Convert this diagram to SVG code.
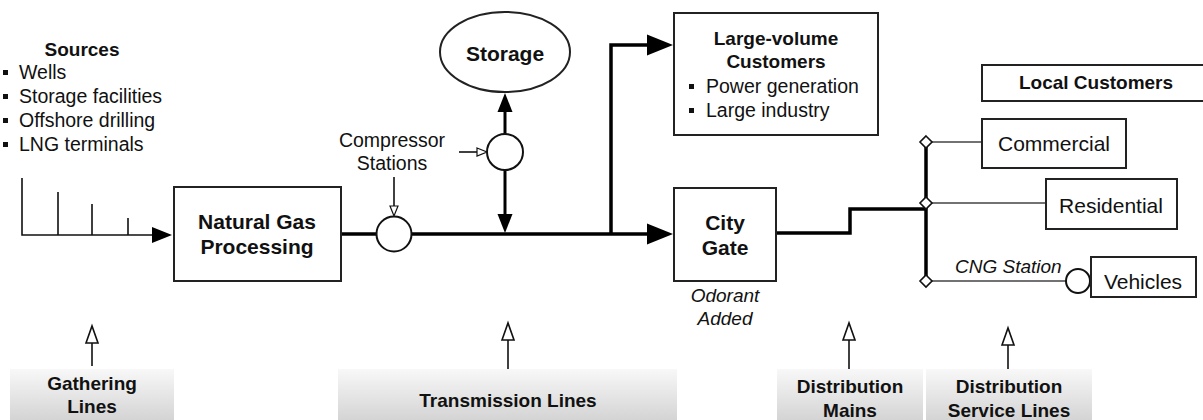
<svg xmlns="http://www.w3.org/2000/svg" width="1203" height="420" viewBox="0 0 1203 420">
<style>
  text { font-family: "Liberation Sans", Arial, Helvetica, sans-serif; fill: #111; }
  .b { font-weight: bold; }
  .i { font-style: italic; }
  .s19 { font-size: 19px; }
  .s195 { font-size: 19.5px; }
  .s21 { font-size: 21px; }
  .mid { text-anchor: middle; }
  .box { fill: #fff; stroke: #222; stroke-width: 2; }
  .lbl { fill: url(#gray); stroke: none; }
  .pipe { fill: none; stroke: #000; stroke-width: 3.5; }
  .thin { fill: none; stroke: #111; stroke-width: 1.6; }
  .svc { fill: none; stroke: #444; stroke-width: 1.4; }
  .circ { fill: #fff; stroke: #111; stroke-width: 2; }
  .dia { fill: #fff; stroke: #111; stroke-width: 1.6; }
  .bul { fill: #111; }
</style>
<defs>
  <linearGradient id="gray" x1="0" y1="0" x2="0" y2="1">
    <stop offset="0" stop-color="#f8f8f8"/>
    <stop offset="1" stop-color="#d4d4d4"/>
  </linearGradient>
  <marker id="big" markerUnits="userSpaceOnUse" markerWidth="27" markerHeight="22" refX="0" refY="11" orient="auto" overflow="visible">
    <path d="M0,0.5 L26,11 L0,21.5 z" fill="#000"/>
  </marker>
  <marker id="med" markerUnits="userSpaceOnUse" markerWidth="20" markerHeight="16" refX="0" refY="8" orient="auto" overflow="visible">
    <path d="M0,0.5 L19,8 L0,15.5 z" fill="#000"/>
  </marker>
  <marker id="small" markerUnits="userSpaceOnUse" markerWidth="21" markerHeight="17" refX="0" refY="8.5" orient="auto" overflow="visible">
    <path d="M0,0.5 L20,8.5 L0,16.5 z" fill="#000"/>
  </marker>
  <marker id="hol" markerUnits="userSpaceOnUse" markerWidth="12" markerHeight="10" refX="0" refY="5" orient="auto" overflow="visible">
    <path d="M0,1 L10,5 L0,9 z" fill="#fff" stroke="#111" stroke-width="1.2"/>
  </marker>
  <marker id="holbig" markerUnits="userSpaceOnUse" markerWidth="19" markerHeight="14" refX="0" refY="7" orient="auto" overflow="visible">
    <path d="M0,1 L17,7 L0,13 z" fill="#fff" stroke="#111" stroke-width="1.6"/>
  </marker>
</defs>

<!-- Sources -->
<g id="sources">
  <text class="b s19 mid" x="82" y="56">Sources</text>
  <rect class="bul" x="3" y="70" width="5" height="5"/>
  <text class="s195" x="19" y="79">Wells</text>
  <rect class="bul" x="3" y="94" width="5" height="5"/>
  <text class="s195" x="19" y="103">Storage facilities</text>
  <rect class="bul" x="3" y="118" width="5" height="5"/>
  <text class="s195" x="19" y="127">Offshore drilling</text>
  <rect class="bul" x="3" y="142" width="5" height="5"/>
  <text class="s195" x="19" y="151">LNG terminals</text>
</g>

<!-- connectors -->
<g id="connectors">
  <!-- gathering lines -->
  <path class="thin" d="M22,178 V235 H152" marker-end="url(#small)"/>
  <path class="thin" d="M58,192 V235 M92,204 V235 M128,218 V235"/>
  <!-- transmission -->
  <path class="pipe" d="M341,234 H376"/>
  <path class="pipe" d="M412,234 H647" marker-end="url(#big)"/>
  <path class="pipe" d="M611,234 V45 H647" marker-end="url(#big)"/>
  <path d="M505,134 V112" stroke="#000" stroke-width="3" fill="none" marker-end="url(#med)"/>
  <path d="M505,170 V214" stroke="#000" stroke-width="3" fill="none" marker-end="url(#med)"/>
  <!-- compressor pointers -->
  <path class="thin" d="M394,177 V206" stroke-width="1.3" marker-end="url(#hol)"/>
  <path class="thin" d="M459,152 H477" stroke-width="1.3" marker-end="url(#hol)"/>
  <!-- distribution mains -->
  <path class="pipe" d="M776,233 H850 V209 H926"/>
  <path class="pipe" d="M926,142 V282"/>
  <!-- service lines -->
  <path class="svc" d="M931,142 H982 M931,203 H1046 M931,281 H1066"/>
  <!-- category pointers -->
  <path class="thin" d="M92,366 V343" stroke-width="2" marker-end="url(#holbig)"/>
  <path class="thin" d="M508,370 V340" stroke-width="2" marker-end="url(#holbig)"/>
  <path class="thin" d="M849,372 V340" stroke-width="2" marker-end="url(#holbig)"/>
  <path class="thin" d="M1008,372 V345" stroke-width="2" marker-end="url(#holbig)"/>
</g>

<g id="junctions">
  <polygon class="dia" points="926,136 932,142 926,148 920,142"/>
  <polygon class="dia" points="926,197 932,203 926,209 920,203"/>
  <polygon class="dia" points="926,275 932,281 926,287 920,281"/>
</g>

<g id="processing">
  <rect class="box" x="174" y="187" width="167" height="94"/>
  <text class="b s21 mid" x="257" y="229">Natural Gas</text>
  <text class="b s21 mid" x="257" y="254">Processing</text>
</g>

<g id="compressor1">
  <circle class="circ" cx="394" cy="234" r="17.5"/>
</g>
<g id="compressor2">
  <circle class="circ" cx="505" cy="152" r="18"/>
</g>
<g id="compressor-label">
  <text class="s195 mid" x="392" y="147">Compressor</text>
  <text class="s195 mid" x="392" y="170">Stations</text>
</g>

<g id="storage">
  <ellipse class="box" cx="505" cy="52" rx="65" ry="40"/>
  <text class="b s21 mid" x="505" y="61">Storage</text>
</g>

<g id="large-volume">
  <rect class="box" x="674" y="13" width="204" height="122"/>
  <text class="b s19 mid" x="776" y="45">Large-volume</text>
  <text class="b s19 mid" x="776" y="68">Customers</text>
  <rect class="bul" x="689" y="84" width="5" height="5"/>
  <text class="s195" x="706" y="93">Power generation</text>
  <rect class="bul" x="689" y="108" width="5" height="5"/>
  <text class="s195" x="706" y="117">Large industry</text>
</g>

<g id="city-gate">
  <rect class="box" x="674" y="188" width="102" height="93"/>
  <text class="b s21 mid" x="725" y="230">City</text>
  <text class="b s21 mid" x="725" y="255">Gate</text>
  <text class="i s19 mid" x="725" y="302">Odorant</text>
  <text class="i s19 mid" x="725" y="325">Added</text>
</g>

<g id="local-customers">
  <rect class="box" x="982" y="65" width="240" height="36"/>
  <text class="b s19 mid" x="1096" y="89">Local Customers</text>
</g>

<g id="commercial">
  <rect class="box" x="982" y="119" width="144" height="49"/>
  <text class="s21 mid" x="1054" y="151">Commercial</text>
</g>

<g id="residential">
  <rect class="box" x="1046" y="179" width="131" height="50"/>
  <text class="s21 mid" x="1111" y="213">Residential</text>
</g>

<g id="cng-station">
  <circle class="circ" cx="1078" cy="281" r="12"/>
  <text class="i s19" x="955" y="273">CNG Station</text>
</g>

<g id="vehicles">
  <rect class="box" x="1091" y="257" width="105" height="40"/>
  <text class="s21 mid" x="1143" y="289">Vehicles</text>
</g>

<g id="label-gathering">
  <rect class="lbl" x="10" y="369" width="164" height="51"/>
  <text class="b s19 mid" x="92" y="390">Gathering</text>
  <text class="b s19 mid" x="92" y="413">Lines</text>
</g>
<g id="label-transmission">
  <rect class="lbl" x="338" y="369" width="339" height="51"/>
  <text class="b s19 mid" x="508" y="407">Transmission Lines</text>
</g>
<g id="label-mains">
  <rect class="lbl" x="777" y="369" width="146" height="51"/>
  <text class="b s19 mid" x="850" y="393">Distribution</text>
  <text class="b s19 mid" x="850" y="417">Mains</text>
</g>
<g id="label-service">
  <rect class="lbl" x="926" y="369" width="166" height="51"/>
  <text class="b s19 mid" x="1009" y="393">Distribution</text>
  <text class="b s19 mid" x="1009" y="417">Service Lines</text>
</g>
</svg>
